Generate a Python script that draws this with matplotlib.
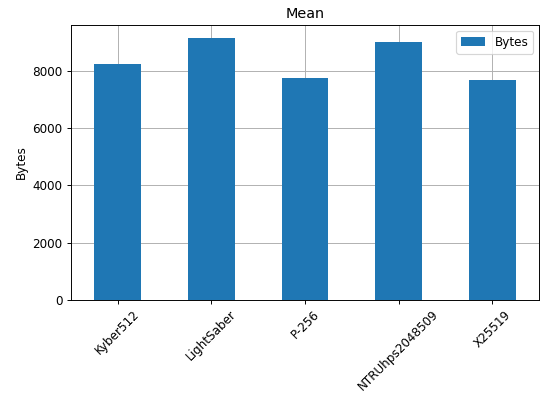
import matplotlib
matplotlib.use("Agg")
import matplotlib.pyplot as plt
import pandas as pd

categorias = ["Kyber512", "LightSaber", "P-256", "NTRUhps2048509", "X25519"]
bytes_medios = [8236, 9158, 7744, 9007, 7674]

df = pd.DataFrame({"Bytes": bytes_medios}, index=categorias)

dpi = 86
fig = plt.figure(figsize=(550 / dpi, 397 / dpi), dpi=dpi)
ax = fig.add_axes([71 / 550, 1 - 299.7 / 397, 468 / 550, 274.7 / 397])
df.plot(kind="bar", ax=ax, color="#1f77b4", rot=45)
ax.grid(True)
ax.set_axisbelow(True)
ax.set_title("Mean")
ax.set_ylabel("Bytes")
ax.legend(loc="upper right")

fig.savefig("out.png", dpi=dpi)
